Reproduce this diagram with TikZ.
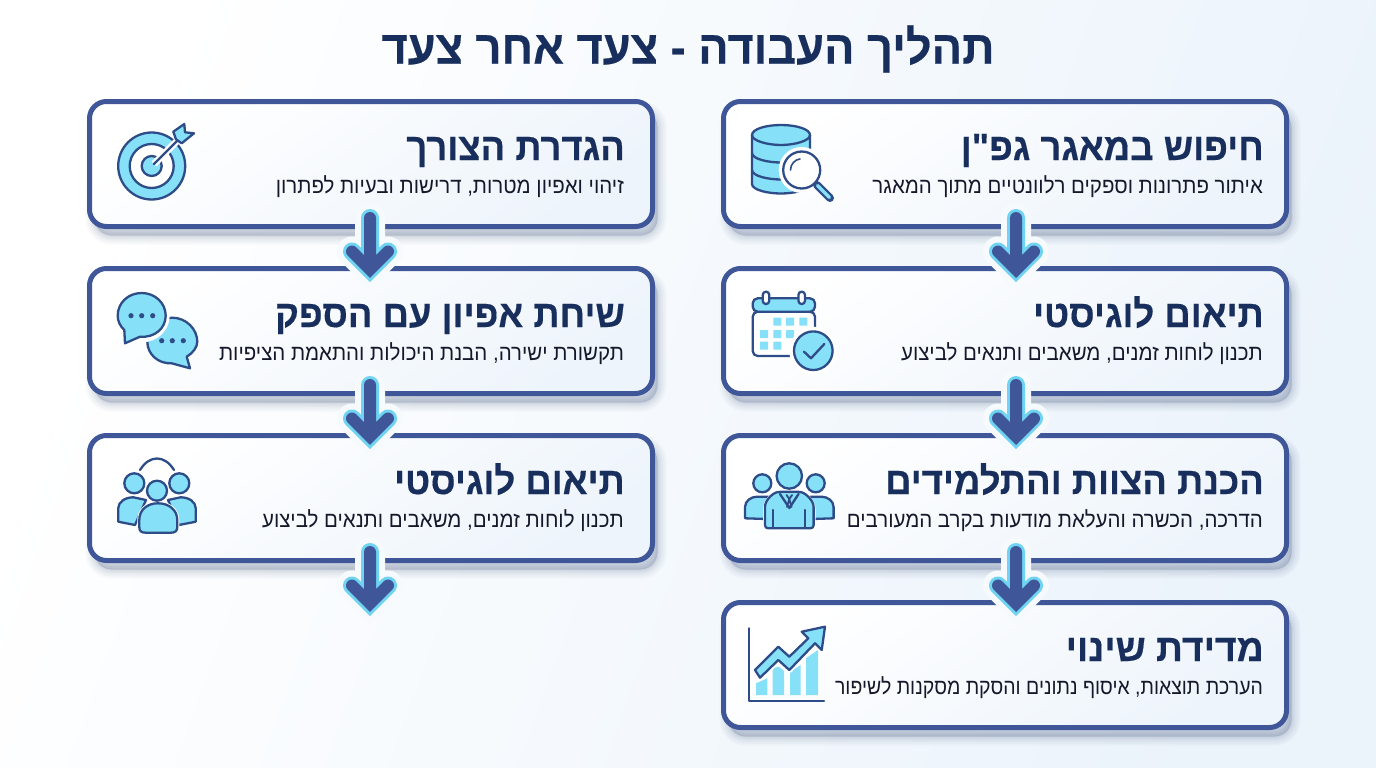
\documentclass[tikz,border=0pt]{standalone}
\usepackage{fontspec}
\usetikzlibrary{shadows}
\setmainfont{Liberation Sans}
\newfontfamily\hesub[Script=Hebrew,FakeStretch=.93]{Liberation Sans}
\newfontfamily\hehead[Script=Hebrew,BoldFeatures={FakeStretch=.96,FakeBold=.35}]{Liberation Sans}
\TeXXeTstate=1
\definecolor{frameblue}{HTML}{3F5799}
\definecolor{haloblue}{HTML}{6FD3F2}
\definecolor{gapblue}{HTML}{F6FAFD}
\definecolor{iconnavy}{HTML}{2E4D88}
\definecolor{iconcyan}{HTML}{85E0F8}
\definecolor{headnavy}{HTML}{182E5C}
\definecolor{subink}{HTML}{15182A}
\definecolor{shadowblue}{HTML}{27406F}
\definecolor{boxpale}{HTML}{EDF4FB}
\definecolor{bgpale}{HTML}{EBF3FB}
\tikzset{
  softshadow/.style={general shadow={shadow xshift=5pt,shadow yshift=-9pt,fill=shadowblue,draw=shadowblue,line width=#1,opacity=.03}},
  stepbox/.style={rectangle, rounded corners=17pt, draw=frameblue, line width=5pt, minimum width=563pt, minimum height=125pt,
    softshadow=18pt, softshadow=14pt, softshadow=10pt, softshadow=7pt, softshadow=4pt, softshadow=2pt,
    top color=white, bottom color=boxpale, shading angle=35},
  titletxt/.style={font=\hehead\bfseries\fontsize{47}{50}\selectfont, text=headnavy, inner sep=0pt},
  headtxt/.style={font=\hehead\bfseries\fontsize{38}{40}\selectfont, text=headnavy, inner sep=0pt, anchor=base east},
  subtxt/.style={font=\hesub\fontsize{22}{24}\selectfont, text=subink, inner sep=0pt, anchor=base east},
  arrowgap/.style={draw=gapblue, line width=30pt, line cap=round, line join=miter},
  arrowhalo/.style={draw=haloblue, line width=18pt, line cap=round, line join=miter},
  arrowcore/.style={draw=frameblue, line width=12pt, line cap=round, line join=miter},
  iconline/.style={draw=iconnavy, line width=2.3pt, line cap=round, line join=round},
  iconfill/.style={iconline, fill=iconcyan},
  iconhalo/.style={draw=white, line width=8pt, fill=white},
  icondot/.style={fill=iconnavy},
  iconcell/.style={fill=iconcyan, rounded corners=.5pt},
}
\newcommand{\he}[1]{\beginR #1\endR}
\newcommand{\flowarrow}[3]{%
  \foreach \lay in {arrowgap,arrowhalo,arrowcore}{%
    \draw[\lay] ([xshift=#3pt,yshift=11pt]#1) -- ([xshift=#3pt,yshift=-3.5pt]#2)
      ([xshift=#3pt-18pt,yshift=-3.5pt+18pt]#2) -- ([xshift=#3pt,yshift=-3.5pt]#2) -- ([xshift=#3pt+18pt,yshift=-3.5pt+18pt]#2);
  }}
\begin{document}
\begin{tikzpicture}[x=1pt,y=-1pt]
  \useasboundingbox (0,0) rectangle (1376,768);
  \path[left color=white, right color=bgpale, shading angle=70] (0,0) rectangle (1376,768);

  \node[titletxt] (title) at (688,49) {\he{תהליך העבודה - צעד אחר צעד}};

  \node[stepbox] (need_box) at (371,164) {};
  \node[stepbox] (talk_box) at (371,331) {};
  \node[stepbox] (plan_box_1) at (371,498) {};
  \coordinate (left_end) at (371,600);
  \node[stepbox] (search_box) at (1005,164) {};
  \node[stepbox] (plan_box_2) at (1005,331) {};
  \node[stepbox] (team_box) at (1005,498) {};
  \node[stepbox] (measure_box) at (1005,665) {};

  \flowarrow{need_box.south}{talk_box.north}{-1}
  \flowarrow{talk_box.south}{plan_box_1.north}{-1}
  \flowarrow{plan_box_1.south}{left_end}{-1}
  \flowarrow{search_box.south}{plan_box_2.north}{11}
  \flowarrow{plan_box_2.south}{team_box.north}{11}
  \flowarrow{team_box.south}{measure_box.north}{11}

  \node[headtxt] (need_head) at (625,160) {\he{הגדרת הצורך}};
  \node[subtxt] (need_sub) at (624,193) {\he{זיהוי ואפיון מטרות, דרישות ובעיות לפתרון}};
  \node[headtxt] (talk_head) at (625,327) {\he{שיחת אפיון עם הספק}};
  \node[subtxt] (talk_sub) at (624,360) {\he{תקשורת ישירה, הבנת היכולות והתאמת הציפיות}};
  \node[headtxt] (plan_head_1) at (625,494) {\he{תיאום לוגיסטי}};
  \node[subtxt] (plan_sub_1) at (624,527) {\he{תכנון לוחות זמנים, משאבים ותנאים לביצוע}};
  \node[headtxt] (search_head) at (1264,160) {\he{חיפוש במאגר גפ"ן}};
  \node[subtxt] (search_sub) at (1263,193) {\he{איתור פתרונות וספקים רלוונטיים מתוך המאגר}};
  \node[headtxt] (plan_head_2) at (1264,327) {\he{תיאום לוגיסטי}};
  \node[subtxt] (plan_sub_2) at (1263,360) {\he{תכנון לוחות זמנים, משאבים ותנאים לביצוע}};
  \node[headtxt] (team_head) at (1264,494) {\he{הכנת הצוות והתלמידים}};
  \node[subtxt] (team_sub) at (1263,527) {\he{הדרכה, הכשרה והעלאת מודעות בקרב המעורבים}};
  \node[headtxt] (measure_head) at (1264,661) {\scalebox{1.025}[1]{\he{מדידת שינוי}}};
  \node[subtxt] (measure_sub) at (1263,694) {\scalebox{.95}[1]{\he{הערכת תוצאות, איסוף נתונים והסקת מסקנות לשיפור}}};

  % database
  \draw[iconfill] (752,135) -- (752,184) .. controls (752,190) and (768,193.5) .. (781,193.5) .. controls (794,193.5) and (810,190) .. (810,184) -- (810,135) .. controls (810,129) and (796,125) .. (781,125) .. controls (766,125) and (752,129) .. (752,135) -- cycle;
  \draw[iconline] (752,135) .. controls (752,141) and (768,145) .. (781,145) .. controls (794,145) and (810,141) .. (810,135);
  \draw[iconline] (752,153) .. controls (752,159) and (768,162.5) .. (781,162.5) .. controls (794,162.5) and (810,159) .. (810,153);
  \draw[iconline] (752,170) .. controls (752,176) and (768,179.5) .. (781,179.5) .. controls (794,179.5) and (810,176) .. (810,170);
  \draw[iconhalo] (801.7,170) circle (19);
  \draw[iconline, fill=white] (801.7,170) circle (18.5);
  \draw[iconline, line width=1.6pt] (790.5,170) .. controls (790.5,164) and (795,159.5) .. (800,159);
  \draw[draw=iconnavy, line width=8pt, line cap=round] (817,185) -- (830,198);
  \draw[draw=iconcyan, line width=3.5pt, line cap=round] (817.5,185.5) -- (829.5,197.5);

  % target
  \draw[iconfill] (151.7,166) circle (33.5);
  \draw[iconline, fill=white] (151.7,166) circle (22);
  \draw[iconfill] (151.7,166) circle (10);
  \draw[draw=white, line width=7pt] (154,164) -- (180,138);
  \draw[iconline] (154,164) -- (177,141);
  \draw[iconfill] (173.3,131.7) -- (184.3,124) -- (185,132.3) -- (194,133.3) -- (181.7,143.3) -- (176,139.3) -- cycle;

  % chat
  \draw[iconfill] (186.7,356.7) -- (190,368.3) -- (171.7,363.3) .. controls (158,364) and (147.3,354) .. (147.3,341.7) .. controls (147.3,329) and (159,317.7) .. (172.3,317.7) .. controls (186,317.7) and (197.3,329) .. (197.3,341.7) .. controls (197.3,347) and (193,353) .. (186.7,356.7) -- cycle;
  \draw[iconhalo] (141.7,315.7) ellipse (24 and 22.7);
  \draw[iconfill] (124.3,330) -- (125,343.3) -- (140,336.7) .. controls (155,338) and (165.7,328) .. (165.7,315.7) .. controls (165.7,303) and (155,293) .. (141.7,293) .. controls (128,293) and (117.7,303) .. (117.7,315.7) .. controls (117.7,321) and (120,326) .. (124.3,330) -- cycle;
  \foreach \dotx in {131,141.7,152.7} \fill[icondot] (\dotx,315.7) circle (2.6);
  \foreach \dotx in {161.7,172.3,183.3} \fill[icondot] (\dotx,340.7) circle (2.6);

  % group
  \draw[iconline] (140,470) .. controls (145,462) and (151,458.5) .. (157,458.5) .. controls (163,458.5) and (169,462) .. (174,470);
  \draw[iconfill] (134.3,483.3) circle (10);
  \draw[iconfill] (179.3,483.3) circle (10);
  \draw[iconfill] (118.3,521.7) -- (118.3,508) .. controls (118.3,502) and (125,497.3) .. (133.3,497.3) -- (146,500) -- (135,525) -- cycle;
  \draw[iconfill] (195.7,521.7) -- (195.7,508) .. controls (195.7,502) and (189,497.3) .. (180.7,497.3) -- (168,500) -- (179,525) -- cycle;
  \draw[iconhalo, line width=4pt] (139.3,530) -- (139.3,520) .. controls (139.3,510) and (147,503.3) .. (158,503.3) .. controls (169,503.3) and (177.3,510) .. (177.3,520) -- (177.3,530) -- cycle;
  \draw[iconfill] (139.3,527) -- (139.3,520) .. controls (139.3,510) and (147,503.3) .. (158,503.3) .. controls (169,503.3) and (177.3,510) .. (177.3,520) -- (177.3,527) .. controls (177.3,531) and (175,532.7) .. (171,532.7) -- (146,532.7) .. controls (141,532.7) and (139.3,531) .. (139.3,527) -- cycle;
  \draw[iconfill] (157,490.7) circle (10);

  % calendar
  \draw[iconline, fill=white, rounded corners=5pt] (752.7,311.7) rectangle (815,356);
  \draw[iconfill, rounded corners=5pt] (752.7,311.7) -- (752.7,298.3) -- (815,298.3) -- (815,311.7) -- cycle;
  \foreach \ringx in {766,801.7}
    \draw[iconline, fill=white, rounded corners=3pt] (\ringx-3.2,291.7) rectangle (\ringx+3.2,304);
  \foreach \cellx/\celly in {777.3/321.7,790/321.7,803.3/321.7,764/334,777.3/334,790/334,764/345.7,777.3/345.7}
    \fill[iconcell] (\cellx-4,\celly-4) rectangle (\cellx+4,\celly+4);
  \draw[iconhalo] (813.3,350.7) circle (20);
  \draw[iconfill] (813.3,350.7) circle (19.3);
  \draw[iconline] (804,351.7) -- (811,358.3) -- (824.3,344);

  % team
  \draw[iconfill] (745,518.3) -- (745,507) .. controls (745,501) and (751,496.7) .. (757,496.7) -- (768,496.7) -- (766,519) -- cycle;
  \draw[iconfill] (833.6,518.3) -- (833.6,507) .. controls (833.6,501) and (827.6,496.7) .. (821.6,496.7) -- (810.6,496.7) -- (812.6,519) -- cycle;
  \draw[iconfill] (762.3,483.3) circle (9);
  \draw[iconfill] (815.7,483.3) circle (9);
  \draw[iconhalo, line width=4pt] (765,528.3) -- (765,510) .. controls (765,500) and (773,493) .. (780,491.7) -- (798.6,491.7) .. controls (805,493) and (813.6,500) .. (813.6,510) -- (813.6,528.3) -- cycle;
  \draw[iconfill, rounded corners=3pt] (765,528.3) -- (765,510) .. controls (765,500) and (773,493) .. (780,491.7) -- (798.6,491.7) .. controls (805,493) and (813.6,500) .. (813.6,510) -- (813.6,528.3) -- cycle;
  \draw[iconfill] (789.3,476) circle (12.7);
  \draw[iconline] (780,494) -- (789.3,508) -- (798.6,494);
  \draw[iconline, line width=1.8pt] (786.5,495) -- (789.3,499) -- (792.1,495) (787,507) -- (789.3,499) -- (791.6,507);
  \draw[iconline] (773.3,510) -- (773.3,528) (805.3,510) -- (805.3,528);

  % chart
  \fill[iconcyan] (756,695) -- (756,683.3) -- (767.3,678.3) -- (767.3,695) -- cycle;
  \fill[iconcyan] (772.7,695) -- (772.7,668) -- (779,666.7) -- (784,671) -- (784,695) -- cycle;
  \fill[iconcyan] (790,695) -- (790,671.7) -- (800.7,665) -- (800.7,695) -- cycle;
  \fill[iconcyan] (806,695) -- (806,658.3) -- (818,650) -- (818,695) -- cycle;
  \draw[iconline] (749,628.3) -- (749,701) -- (824,701);
  \draw[draw=white, line width=6pt, line join=round] (755,670) -- (778.3,646.7) -- (789.3,656.7) -- (808.3,638.3) -- (801.7,631.7) -- (825,626.7) -- (821.7,650) -- (815,643.3) -- (789.3,670) -- (778.3,660) -- (760,677.7) -- cycle;
  \draw[iconfill] (755,670) -- (778.3,646.7) -- (789.3,656.7) -- (808.3,638.3) -- (801.7,631.7) -- (825,626.7) -- (821.7,650) -- (815,643.3) -- (789.3,670) -- (778.3,660) -- (760,677.7) -- cycle;
\end{tikzpicture}
\end{document}
